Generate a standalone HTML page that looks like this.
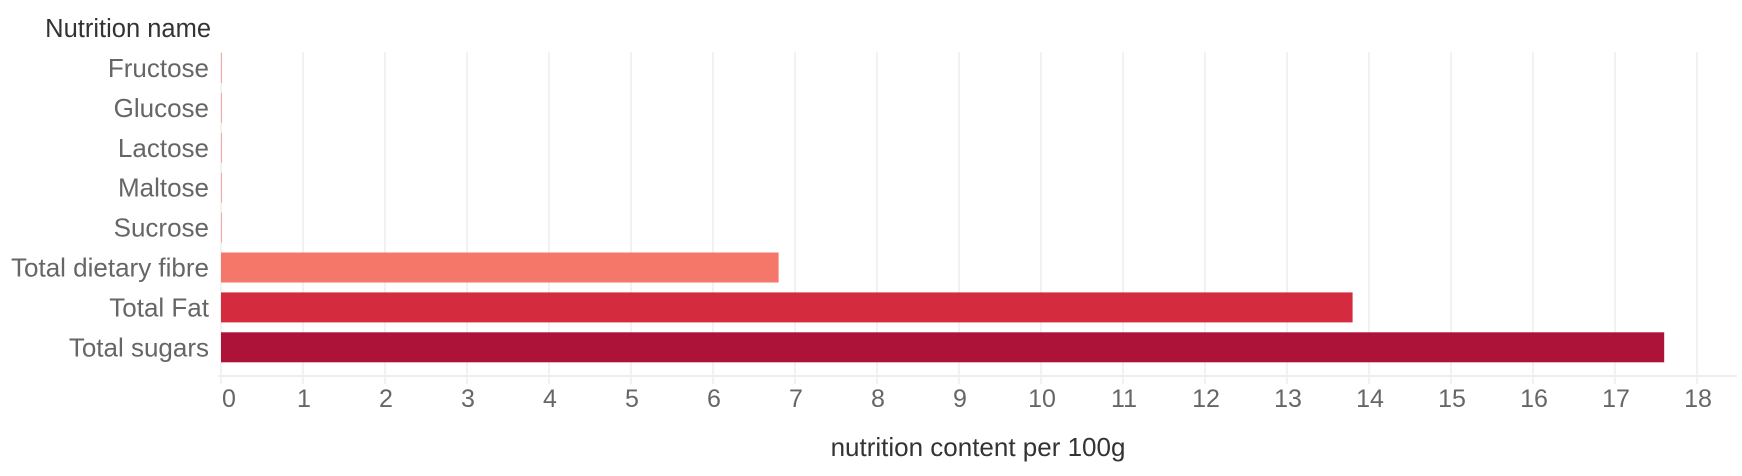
<!DOCTYPE html>
<html><head><meta charset="utf-8"><style>
body{margin:0;background:#fff;}
svg{display:block;font-family:"Liberation Sans",sans-serif;}
</style></head><body>
<svg id="chart" width="1742" height="476">
<text x="211" y="37" text-anchor="end" font-size="25.5" fill="#333">Nutrition name</text>
<g id="grid"></g><g id="bars"></g><g id="labels"></g><g id="ticks"></g>
<text x="978" y="456" text-anchor="middle" font-size="26" fill="#333">nutrition content per 100g</text>
</svg>
<script>
const categories=["Fructose","Glucose","Lactose","Maltose","Sucrose","Total dietary fibre","Total Fat","Total sugars"];
const values=[0,0,0,0,0,6.8,13.8,17.6];
const colors=["#f7a99e","#f7a99e","#f7a99e","#f7a99e","#f7a99e","#f4776a","#d42b3f","#ad1339"];
const tickLabels=[0,1,2,3,4,5,6,7,8,9,10,11,12,13,14,15,16,17,18];
const NS="http://www.w3.org/2000/svg";
const x=v=>221+v*82.0;
const y=i=>48+i*39.9;
function mk(t,a,p){const e=document.createElementNS(NS,t);for(const k in a)e.setAttribute(k,a[k]);p.appendChild(e);return e;}
const grid=document.getElementById('grid'),bars=document.getElementById('bars'),labels=document.getElementById('labels'),ticks=document.getElementById('ticks');
tickLabels.forEach(t=>{
 const g=mk('line',{x1:x(t),x2:x(t),y1:52,y2:384,stroke:'#eeeeee','stroke-width':1.5},grid);
 
 
 const tx=mk('text',{x:x(t)+(t===0?8:1),y:407,'text-anchor':'middle','font-size':25,fill:'#666'},ticks);
 tx.textContent=t;
 
 
});
const ax=mk('line',{x1:218,x2:1737,y1:376,y2:376,stroke:'#eeeeee','stroke-width':2},grid);


categories.forEach((c,i)=>{
 const w=Math.max(x(values[i])-x(0),1);
 const r=mk('rect',{x:x(0),y:y(i)+5,width:w,height:30,fill:colors[i]},bars);
 
 
 const l=mk('text',{x:209,y:y(i)+29,'text-anchor':'end','font-size':26,fill:'#666'},labels);
 l.textContent=c;
 
 
});
</script>
</body></html>
